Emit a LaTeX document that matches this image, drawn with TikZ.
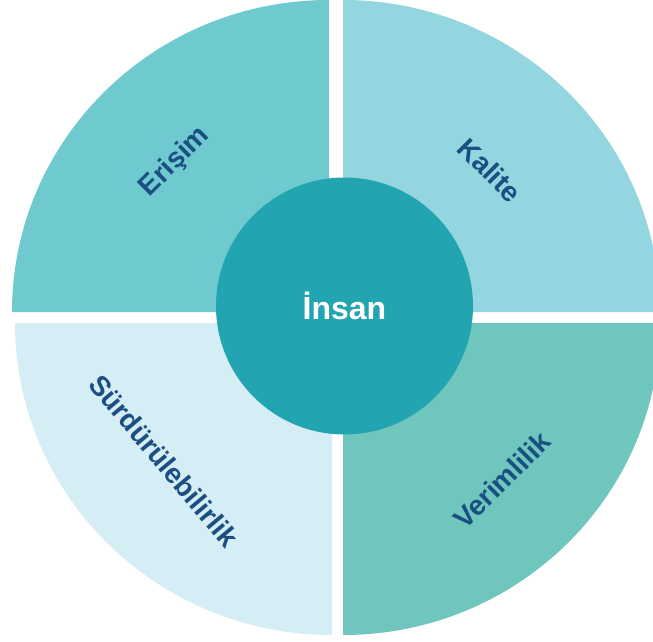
\documentclass[tikz,border=0pt]{standalone}
\usepackage{fontspec}
\setmainfont{Liberation Sans}
\definecolor{erisimcol}{HTML}{6FCAD0}
\definecolor{kalitecol}{HTML}{94D6DF}
\definecolor{verimcol}{HTML}{6FC6BD}
\definecolor{surdurcol}{HTML}{D5EDF4}
\definecolor{hubcol}{HTML}{23A4B1}
\definecolor{textblue}{HTML}{1B4E82}
\tikzset{
    sector text/.style={text=textblue, inner sep=0pt,
        font=\bfseries\fontsize{28}{30}\selectfont},
    hub/.style={circle, fill=hubcol, minimum size=257pt, text=white,
        font=\bfseries\fontsize{32}{34}\selectfont}
}

\begin{document}
\begin{tikzpicture}[x=1pt, y=1pt]
  \useasboundingbox (0,0) rectangle (653,641);

  \fill[erisimcol] (329,329) -- ++(-317,0)
    arc[start angle=180, end angle=90, x radius=317, y radius=312] -- cycle;
  \fill[kalitecol] (343,329) -- ++(0,312)
    arc[start angle=90, end angle=0, x radius=317, y radius=312] -- cycle;
  \fill[verimcol] (343,318) -- ++(317,0)
    arc[start angle=0, end angle=-90, x radius=317, y radius=312] -- cycle;
  \fill[surdurcol] (332,318) -- ++(0,-312)
    arc[start angle=270, end angle=180, x radius=317, y radius=312] -- cycle;

  \node (insan) [hub] at (344.5,335) {İnsan};
  \node (erisim) [sector text, rotate=45] at (175,479) {Erişim};
  \node (kalite) [sector text, rotate=-45] at (490,471) {Kalite};
  \node (verim) [sector text, rotate=45] at (502,161) {Verimlilik};
  \node (surdur) [sector text, rotate=-50] at (164,180) {Sürdürülebilirlik};

\end{tikzpicture}
\end{document}
